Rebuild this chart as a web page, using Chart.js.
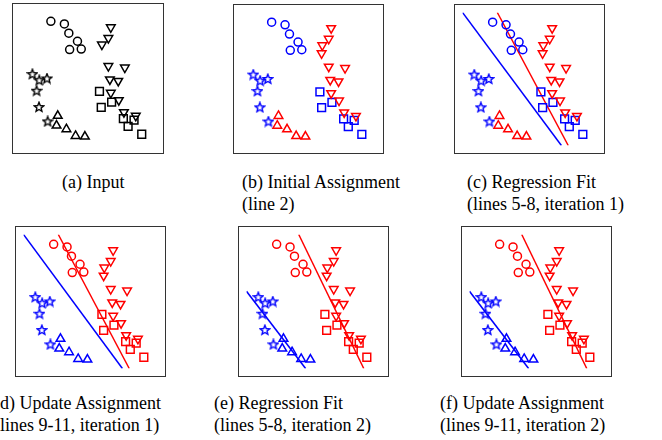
<!DOCTYPE html>
<html>
<head>
<meta charset="utf-8">
<script src="https://cdn.jsdelivr.net/npm/chart.js@4.4.1/dist/chart.umd.min.js"></script>
<style>
body { margin: 0; background: #fff; width: 662px; height: 440px; position: relative; overflow: hidden;
       font-family: 'Liberation Serif', 'Times New Roman', serif; }
.box { position: absolute; border: 1.5px solid #333; box-sizing: border-box; }
.box canvas { display: block; }
.cap { position: absolute; font-size: 18px; line-height: 22px; color: #000; white-space: nowrap; }
</style>
</head>
<body>
<div class="box" style="left:12px;top:3px;width:152px;height:151px"><canvas id="pa"></canvas></div>
<div class="box" style="left:233px;top:4px;width:151px;height:150px"><canvas id="pb"></canvas></div>
<div class="box" style="left:454px;top:4px;width:151px;height:150px"><canvas id="pc"></canvas></div>
<div class="box" style="left:15px;top:226px;width:151px;height:151px"><canvas id="pd"></canvas></div>
<div class="box" style="left:238px;top:226px;width:151px;height:151px"><canvas id="pe"></canvas></div>
<div class="box" style="left:461px;top:226px;width:151px;height:151px"><canvas id="pf"></canvas></div>

<div class="cap" style="left:62px;top:171px">(a) Input</div>
<div class="cap" style="left:242px;top:171px">(b) Initial Assignment<br>(line 2)</div>
<div class="cap" style="left:467px;top:171px">(c) Regression Fit<br>(lines 5-8, iteration 1)</div>
<div class="cap" style="left:-6px;top:392px">(d) Update Assignment<br>(lines 9-11, iteration 1)</div>
<div class="cap" style="left:214px;top:392px">(e) Regression Fit<br>(lines 5-8, iteration 2)</div>
<div class="cap" style="left:440px;top:392px">(f) Update Assignment<br>(lines 9-11, iteration 2)</div>

<script>
// point groups (same positions in every panel, 0-100 units)
const circleX = [22.5, 32.5, 35.8, 42.2, 36.4, 45.0];
const circleY = [92.7, 90.7, 83.8, 77.8, 71.6, 72.0];
const downX = [66.9, 65.1, 60.3, 59.8, 65.1, 77.3, 66.2, 72.4, 66.9, 72.8, 76.6, 85.4];
const downY = [88.2, 80.2, 75.3, 69.3, 59.3, 58.2, 49.3, 48.2, 39.3, 33.8, 24.9, 22.2];
const starX = [8.8, 13.9, 19.6, 11.9, 13.7, 20.1];
const starY = [53.3, 48.7, 50.0, 40.9, 28.7, 18.0];
const upX = [27.6, 26.7, 34.0, 40.8, 47.7];
const upY = [22.2, 14.9, 12.2, 7.1, 6.7];
const squareX = [58.5, 59.8, 67.5, 76.2, 79.7, 84.1, 89.8];
const squareY = [40.4, 28.4, 32.4, 20.0, 14.2, 18.9, 8.4];
const hiddenInInput = [3]; // one triangle not shown in panel (a)

// regression lines
const fitBlue1X = [0, 73.8],  fitBlue1Y = [100, 0];
const fitRed1X  = [26.0, 78.9], fitRed1Y = [100, 0];
const fitBlue2X = [0, 44.1],  fitBlue2Y = [57.6, 0];
const fitRed2X  = [39.0, 87.5], fitRed2Y = [100, 0];

const K = '#000', B = '#0000ff', R = '#ff0000';

function makeStar(color) {
    const c = document.createElement('canvas');
    c.width = 12; c.height = 12;
    const g = c.getContext('2d');
    g.strokeStyle = color;
    g.lineWidth = 1.4;
    g.beginPath();
    for (let i = 0; i < 10; i++) {
        const r = i % 2 ? 2.2 : 5;
        const a = -Math.PI / 2 + i * Math.PI / 5;
        const x = 6 + r * Math.cos(a), y = 6.3 + r * Math.sin(a);
        i ? g.lineTo(x, y) : g.moveTo(x, y);
    }
    g.closePath();
    g.stroke();
    return c;
}

function pts(xs, ys, skip) {
    return xs.map((x, i) => ({ x: x, y: ys[i] })).filter((p, i) => !(skip || []).includes(i));
}

function marks(style, xs, ys, color, radius, rotation, skip) {
    return {
        type: 'scatter',
        data: pts(xs, ys, skip),
        pointStyle: style === 'star' ? makeStar(color) : style,
        pointRadius: radius,
        pointRotation: rotation || 0,
        borderColor: color,
        backgroundColor: 'rgba(0,0,0,0)',
        borderWidth: 1.5
    };
}

function fitLine(xs, ys, color) {
    return {
        type: 'line',
        data: pts(xs, ys),
        borderColor: color,
        borderWidth: 1.5,
        pointRadius: 0,
        fill: false
    };
}

const panels = [
    { id: 'pa', c: [K, K, K, K, K], lines: [], skip: hiddenInInput },
    { id: 'pb', c: [B, R, B, R, B], lines: [] },
    { id: 'pc', c: [B, R, B, R, B], lines: [[fitBlue1X, fitBlue1Y, B], [fitRed1X, fitRed1Y, R]] },
    { id: 'pd', c: [R, R, B, B, R], lines: [[fitBlue1X, fitBlue1Y, B], [fitRed1X, fitRed1Y, R]] },
    { id: 'pe', c: [R, R, B, B, R], lines: [[fitBlue2X, fitBlue2Y, B], [fitRed2X, fitRed2Y, R]] },
    { id: 'pf', c: [R, R, B, B, R], lines: [[fitBlue2X, fitBlue2Y, B], [fitRed2X, fitRed2Y, R]] }
];

panels.forEach(p => {
    const datasets = [
        marks('circle', circleX, circleY, p.c[0], 4),
        marks('triangle', downX, downY, p.c[1], 5, 180, p.skip),
        marks('star', starX, starY, p.c[2], 6),
        marks('triangle', upX, upY, p.c[3], 5),
        marks('rect', squareX, squareY, p.c[4], 5.5)
    ];
    p.lines.forEach(l => datasets.push(fitLine(l[0], l[1], l[2])));

    new Chart(document.getElementById(p.id), {
        type: 'scatter',
        data: { datasets: datasets },
        options: {
            responsive: true,
            maintainAspectRatio: false,
            animation: false,
            layout: { padding: 0 },
            plugins: { legend: { display: false }, tooltip: { enabled: false } },
            scales: {
                x: { type: 'linear', min: 0, max: 100, display: false },
                y: { type: 'linear', min: 0, max: 100, display: false }
            }
        }
    });
});
</script>
</body>
</html>
